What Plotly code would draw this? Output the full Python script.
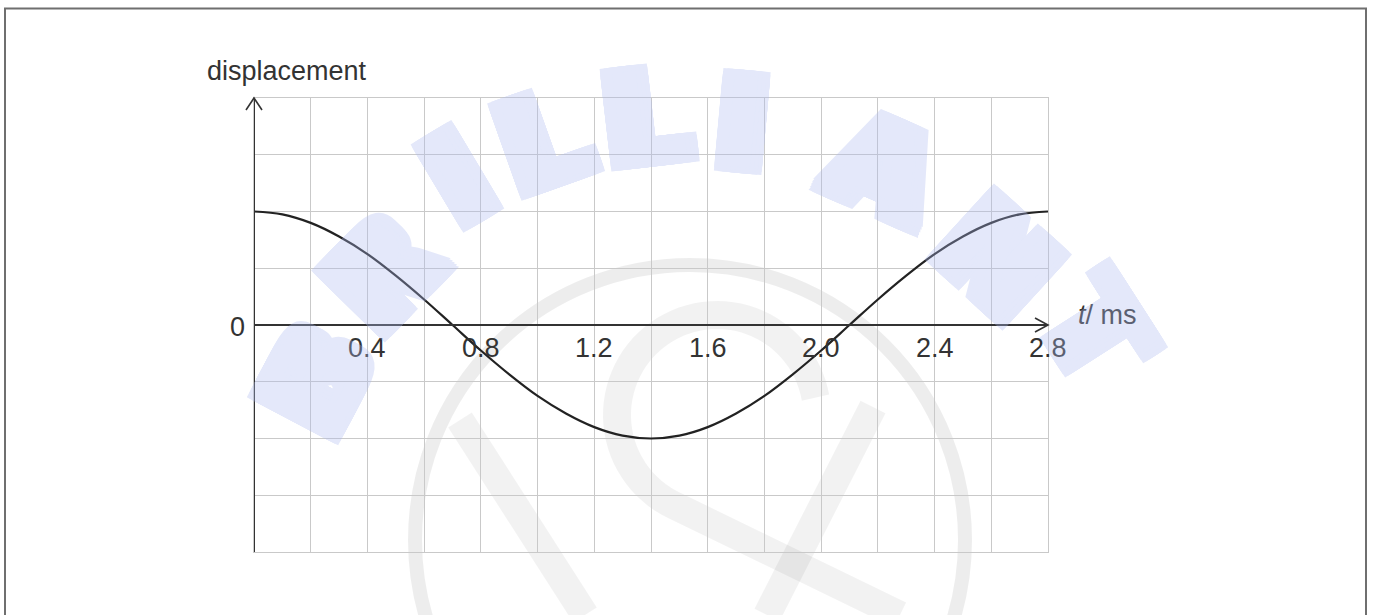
import numpy as np
import plotly.graph_objects as go

# ---- data ----
t_ms = [0.0, 0.1, 0.2, 0.3, 0.4, 0.5, 0.6, 0.7, 0.8, 0.9, 1.0, 1.1, 1.2, 1.3, 1.4,
        1.5, 1.6, 1.7, 1.8, 1.9, 2.0, 2.1, 2.2, 2.3, 2.4, 2.5, 2.6, 2.7, 2.8]
displacement = [2.0, 1.95, 1.80, 1.56, 1.25, 0.87, 0.45, 0.0, -0.45, -0.87, -1.25, -1.56,
                -1.80, -1.95, -2.0, -1.95, -1.80, -1.56, -1.25, -0.87, -0.45, 0.0, 0.45,
                0.87, 1.25, 1.56, 1.80, 1.95, 2.0]
x_tick_vals = [0.4, 0.8, 1.2, 1.6, 2.0, 2.4, 2.8]
x_tick_text = ["0.4", "0.8", "1.2", "1.6", "2.0", "2.4", "2.8"]
y_axis_title = "displacement"
x_axis_title = "<i>t</i>/ ms"
watermark_letters = ["B", "R", "I", "L", "L", "I", "A", "N", "T"]

# ---- layout geometry (pixels) ----
W, H = 1373, 615
L, R, T, B = 254, 325, 98, 63
PW, PH = W - L - R, H - T - B


def px(xp):
    return (xp - L) / PW


def py(yp):
    return (H - B - yp) / PH


FONT = "Liberation Sans, Arial, sans-serif"
GRID = "#c9c9c9"
AXIS = "#333333"
TXT = "#333333"

fig = go.Figure()
fig.add_trace(go.Scatter(
    x=t_ms, y=displacement, mode="lines", line=dict(color="#222222", width=2.2, shape="spline"),
    hoverinfo="skip", showlegend=False))

shapes = []
# watermark (grey logo)
cx, cy, rr = 690, 540, 275
shapes.append(dict(type="circle", xref="paper", yref="paper", layer="below",
                   x0=px(cx - rr), x1=px(cx + rr), y0=py(cy + rr), y1=py(cy - rr),
                   line=dict(color="rgba(0,0,0,0.07)", width=14)))
icx, icy, ir = 717, 415, 100
ang = np.radians(np.linspace(10, 245, 60))
pts = [(icx + ir * np.cos(a), icy - ir * np.sin(a)) for a in ang]
pts.append((900, 615))
path = "M " + " L ".join(f"{px(a):.4f},{py(b):.4f}" for a, b in pts)
shapes.append(dict(type="path", xref="paper", yref="paper", layer="below", path=path,
                   line=dict(color="rgba(0,0,0,0.05)", width=28)))
for (a0, b0, a1, b1) in [(460, 420, 585, 615), (873, 407, 767, 615)]:
    shapes.append(dict(type="line", xref="paper", yref="paper", layer="below",
                       x0=px(a0), y0=py(b0), x1=px(a1), y1=py(b1),
                       line=dict(color="rgba(0,0,0,0.05)", width=28)))

# axes with open arrowheads
shapes.append(dict(type="line", xref="x", yref="y", x0=0, x1=2.8, y0=0, y1=0,
                   line=dict(color=AXIS, width=2)))
shapes.append(dict(type="line", xref="x", yref="y", x0=0, x1=0, y0=-4, y1=4,
                   line=dict(color=AXIS, width=2)))
shapes.append(dict(type="path", xref="paper", yref="paper", xsizemode="pixel", ysizemode="pixel",
                   xanchor=1, yanchor=0.5, path="M -13,7 L 0,0 L -13,-7",
                   line=dict(color=AXIS, width=1.6)))
shapes.append(dict(type="path", xref="paper", yref="paper", xsizemode="pixel", ysizemode="pixel",
                   xanchor=0, yanchor=1, path="M -8,-12 L 0,0 L 8,-12",
                   line=dict(color=AXIS, width=1.6)))
# outer frame
shapes.append(dict(type="rect", xref="paper", yref="paper",
                   x0=px(5), x1=px(1366), y0=py(625), y1=py(8.5),
                   line=dict(color="#6f6f6f", width=2)))

annotations = []
for v, s in zip(x_tick_vals, x_tick_text):
    annotations.append(dict(x=v, y=0, xref="x", yref="y", text=s, showarrow=False,
                            xanchor="center", yanchor="middle", yshift=-23,
                            font=dict(family=FONT, size=27, color=TXT)))
annotations.append(dict(x=0, y=0, xref="x", yref="y", text="0", showarrow=False,
                        xanchor="center", yanchor="middle", xshift=-17, yshift=-2,
                        font=dict(family=FONT, size=27, color=TXT)))
annotations.append(dict(x=px(205), y=py(71), xref="paper", yref="paper", text=y_axis_title,
                        showarrow=False, xanchor="left", yanchor="middle",
                        font=dict(family=FONT, size=27, color=TXT)))
annotations.append(dict(x=px(1076), y=py(315), xref="paper", yref="paper", text=x_axis_title,
                        showarrow=False, xanchor="left", yanchor="middle",
                        font=dict(family=FONT, size=27, color=TXT)))

# watermark letters along an arc (chunky, semi-transparent)
letter_centres = [(316, 380), (383, 273), (458, 178), (543, 140), (646, 117),
                  (742, 123), (883, 168), (997, 258), (1094, 330)]
WM = "#aebbf0"
steps = [-12, -8, -4, 0, 4, 8, 12]
shadow = ", ".join(f"{a}px {b}px 0 {WM}" for a in steps for b in [-6, -3, 0, 3, 6])
acx, acy = 700, 583
for ch, (lx, ly) in zip(watermark_letters, letter_centres):
    rot = np.degrees(np.arctan2(lx - acx, acy - ly))
    annotations.append(dict(x=px(lx), y=py(ly), xref="paper", yref="paper",
                            text=f"<b>{ch}</b>", showarrow=False, textangle=float(rot),
                            xanchor="center", yanchor="middle", opacity=0.33,
                            font=dict(family="DejaVu Sans", size=125, color=WM,
                                      shadow=shadow)))

fig.update_layout(
    width=W, height=H, margin=dict(l=L, r=R, t=T, b=B),
    paper_bgcolor="white", plot_bgcolor="rgba(0,0,0,0)",
    shapes=shapes, annotations=annotations, showlegend=False,
    xaxis=dict(range=[0, 2.8], dtick=0.2, tick0=0, showgrid=True, gridcolor=GRID, gridwidth=1,
               showticklabels=False, ticks="", zeroline=False, showline=True, mirror=True,
               linecolor=GRID, linewidth=1, fixedrange=True),
    yaxis=dict(range=[-4, 4], dtick=1, tick0=0, showgrid=True, gridcolor=GRID, gridwidth=1,
               showticklabels=False, ticks="", zeroline=False, showline=True, mirror=True,
               linecolor=GRID, linewidth=1, fixedrange=True),
)

fig.write_html("out.html", config={"displayModeBar": False},
               post_script="document.body.style.margin='0';document.body.style.overflow='hidden';")
